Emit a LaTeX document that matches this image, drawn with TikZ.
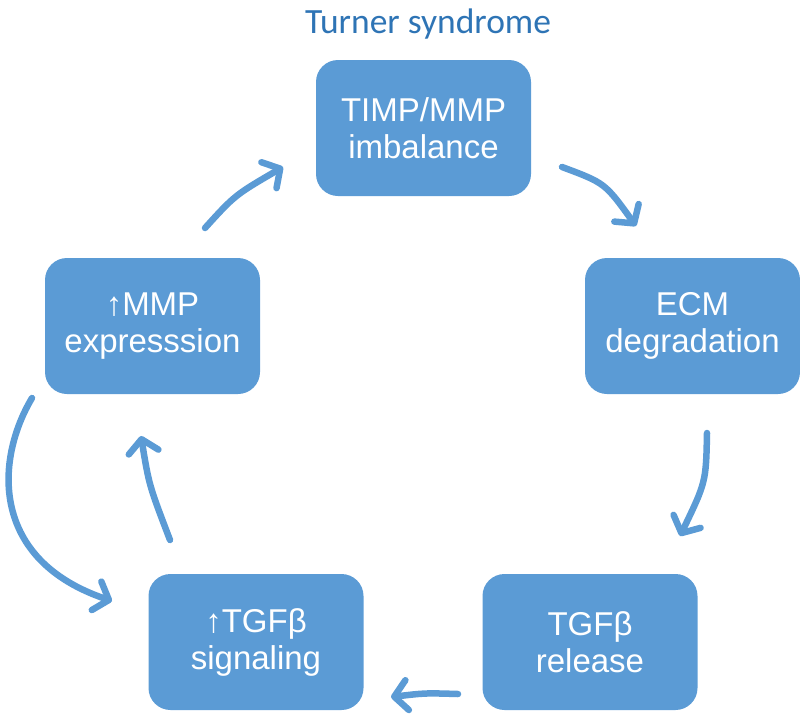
\documentclass[tikz,border=0pt]{standalone}
\usepackage{fontspec}
\setmainfont{Liberation Sans}
\newfontfamily\titlefont{Carlito}
\usetikzlibrary{arrows.meta}
\definecolor{boxblue}{HTML}{5B9BD5}
\definecolor{titleblue}{HTML}{2E74B5}
\begin{document}
\begin{tikzpicture}[x=1pt,y=-1pt,
  stepbox/.style={fill=boxblue, draw=none, rounded corners=22pt, minimum width=215pt, minimum height=136pt,
    text=white, align=center, font=\fontsize{33}{37}\selectfont, inner sep=0pt},
  flow/.style={draw=boxblue, line width=6.5pt, line cap=round,
    -{Straight Barb[length=13pt, width=30pt, line width=6.5pt, round]}}]
\useasboundingbox (0,0) rectangle (800,723);
\node[text=titleblue, font=\titlefont\fontsize{35.5}{40}\selectfont] (title) at (428,24) {Turner syndrome};
\node[stepbox] (timp) at (423.5,128) {TIMP/MMP\\imbalance};
\node[stepbox] (ecm) at (692.5,326) {ECM\\degradation};
\node[stepbox] (rel) at (590,642) {TGFβ\\release};
\node[stepbox] (sig) at (256,642) {↑TGFβ\\signaling};
\node[stepbox] (mmp) at (152.5,326) {↑MMP\\expresssion};
\coordinate (a1s) at (205,228); \coordinate (a1e) at (283,167);
\coordinate (a2s) at (562,167); \coordinate (a2e) at (636,226);
\coordinate (a3s) at (707,433); \coordinate (a3e) at (680,536);
\coordinate (a4s) at (458,694); \coordinate (a4e) at (391,697);
\coordinate (a5s) at (170,540); \coordinate (a5e) at (141,436);
\coordinate (a6s) at (32,398); \coordinate (a6e) at (112,601);
\draw[flow] (a1s) .. controls (235,195) .. (a1e);
\draw[flow] (a2s) .. controls (605,183) .. (a2e);
\draw[flow] (a3s) .. controls (706,482) .. (a3e);
\draw[flow] (a4s) .. controls (425,693) .. (a4e);
\draw[flow] (a5s) .. controls (149,485) .. (a5e);
\draw[flow] (a6s) .. controls (-5,460) and (-10,560) .. (a6e);
\end{tikzpicture}
\end{document}
